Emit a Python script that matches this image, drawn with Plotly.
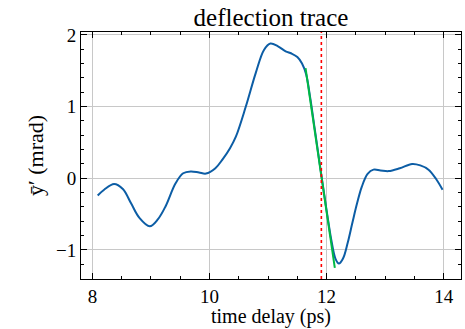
import plotly.graph_objects as go

# data
t_ps = [8.09, 8.2, 8.37, 8.52, 8.66, 8.8, 8.98, 9.12, 9.25, 9.42, 9.55, 9.68, 9.82, 9.94,
        10.1, 10.22, 10.35, 10.45, 10.62, 10.79, 10.93, 11.04, 11.17, 11.30, 11.40,
        11.50, 11.58, 11.65, 11.72, 11.8, 11.9, 12.0, 12.08, 12.15, 12.21, 12.28, 12.36,
        12.44, 12.52, 12.6, 12.7, 12.8, 12.92, 13.06, 13.25, 13.46, 13.6, 13.74, 13.87,
        13.98]
deflection = [-0.24, -0.16, -0.08, -0.15, -0.35, -0.55, -0.67, -0.57, -0.39, -0.07, 0.07,
              0.095, 0.08, 0.065, 0.14, 0.26, 0.42, 0.58, 1.0, 1.47, 1.79, 1.88, 1.84,
              1.77, 1.74, 1.69, 1.60, 1.45, 1.12, 0.67, 0.10, -0.45, -0.86, -1.12, -1.19,
              -1.12, -0.9, -0.62, -0.35, -0.12, 0.06, 0.12, 0.11, 0.10, 0.14, 0.20, 0.18,
              0.12, -0.01, -0.16]
fit_x = [11.64, 12.14]
fit_y = [1.535, -1.25]
zero_cross = 11.91

font = "Liberation Serif"

fig = go.Figure()
fig.add_trace(go.Scatter(x=t_ps, y=deflection, mode="lines",
                         line=dict(color="#0C5DA5", width=2, shape="spline", smoothing=1.0),
                         showlegend=False))
fig.add_trace(go.Scatter(x=fit_x, y=fit_y, mode="lines",
                         line=dict(color="#00B945", width=2), showlegend=False))
fig.add_vline(x=zero_cross, line=dict(color="red", width=1.6, dash="dot"))

axis_common = dict(
    showline=True, linecolor="black", linewidth=1, mirror="ticks",
    ticks="inside", ticklen=6, tickcolor="black",
    showgrid=True, gridcolor="#c8c8c8", gridwidth=1, zeroline=False,
    tickfont=dict(family=font, size=19, color="black"),
)

fig.update_xaxes(range=[7.805, 14.295], dtick=2, tick0=8,
                 minor=dict(dtick=0.5, ticks="inside", ticklen=3, tickcolor="black", showgrid=False),
                 **axis_common)
fig.update_yaxes(range=[-1.405, 2.04], dtick=1, tick0=0,
                 minor=dict(dtick=0.2, ticks="inside", ticklen=3, tickcolor="black", showgrid=False),
                 title=dict(text="ȳ′ (mrad)", font=dict(family=font, size=22, color="black"), standoff=6),
                 **axis_common)

plot_h = 329 - 32 - 50
fig.add_annotation(text="time delay (ps)", xref="paper", yref="paper",
                   x=0.5, y=-(329 - 279) / plot_h, xanchor="center", yanchor="bottom",
                   showarrow=False, borderpad=0,
                   font=dict(family=font, size=20, color="black"))

fig.update_layout(
    width=465, height=329,
    margin=dict(l=81, r=4, t=32, b=50),
    paper_bgcolor="white", plot_bgcolor="white",
    title=dict(text="deflection trace", x=271 / 465, xanchor="center",
               y=1 - 17 / 329, yanchor="middle",
               font=dict(family=font, size=25, color="black")),
)

fig.write_html("out.html")
